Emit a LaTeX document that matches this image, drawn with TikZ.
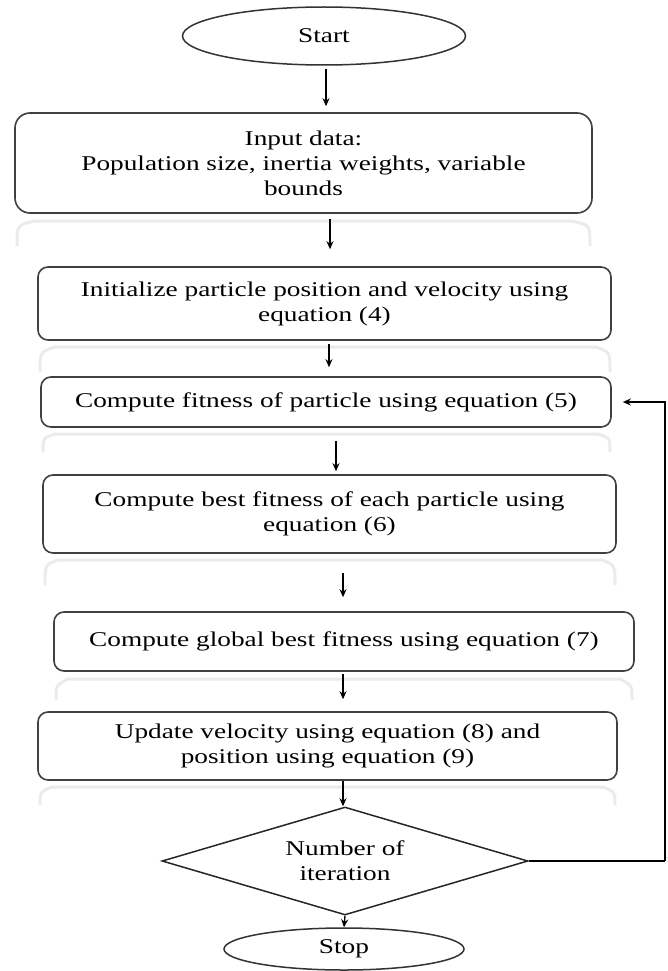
\documentclass[tikz,border=0pt]{standalone}
\usepackage{fontspec}
\setmainfont{Liberation Serif}[FakeStretch=1.3]
\usetikzlibrary{shapes.geometric,arrows.meta}
\begin{document}
\begin{tikzpicture}[x=1pt,y=-1pt,
  box/.style={draw=black!75,line width=1.6pt,rounded corners=10pt,align=center,inner sep=0pt,
     font=\fontsize{21}{25}\selectfont},
  oval/.style={draw=black!80,line width=1.5pt,ellipse,inner sep=0pt,font=\fontsize{21}{25}\selectfont},
  dec/.style={draw=black!85,line width=1.5pt,diamond,aspect=3.39,inner sep=0pt,align=center,font=\fontsize{21}{25}\selectfont},
  arr/.style={draw=black,line width=1.3pt,-{Stealth[length=8pt,width=7pt]}},
  refl/.style={draw=black!8,line width=3pt}]
\useasboundingbox (0,0) rectangle (667,971);
% nodes
\node[oval,minimum width=283pt,minimum height=58pt] (start) at (324,36) {Start};
\node[box,rounded corners=15pt,minimum width=577pt,minimum height=100pt] (input) at (303.5,163)
  {Input data:\\Population size, inertia weights, variable\\bounds};
\node[box,minimum width=573pt,minimum height=73pt] (init) at (324.5,303.5)
  {Initialize particle position and velocity using\\equation (4)};
\node[box,minimum width=570pt,minimum height=50pt] (fit) at (326,402)
  {Compute fitness of particle using equation (5)};
\node[box,minimum width=573pt,minimum height=78pt] (best) at (329.5,514)
  {Compute best fitness of each particle using\\equation (6)};
\node[box,minimum width=580pt,minimum height=59pt] (glob) at (344,641.5)
  {Compute global best fitness using equation (7)};
\node[box,minimum width=579pt,minimum height=68pt] (upd) at (327.5,746)
  {Update velocity using equation (8) and\\position using equation (9)};
\node[dec,minimum width=366pt,minimum height=108pt] (num) at (345,861)
  {Number of\\iteration};
\node[oval,minimum width=240pt,minimum height=42pt] (stop) at (344,949) {Stop};
% reflections
\draw[refl] (17,246) .. controls (17,225) .. (35,221) -- (572,221) .. controls (590,225) .. (590,246);
\draw[refl] (40,372) .. controls (40,352) .. (55,347) -- (596,347) .. controls (610,352) .. (610,372);
\draw[refl] (43,452) .. controls (43,438) .. (55,434) -- (598,434) .. controls (610,438) .. (610,452);
\draw[refl] (45,585) .. controls (45,565) .. (58,560) -- (602,560) .. controls (615,565) .. (615,585);
\draw[refl] (56,700) .. controls (56,685) .. (68,679) -- (620,679) .. controls (632,685) .. (632,700);
\draw[refl] (40,805) .. controls (40,792) .. (52,787) -- (603,787) .. controls (615,792) .. (615,805);
% arrow columns
\coordinate (c1) at (326,0);
\coordinate (c2) at (330,0);
\coordinate (c3) at (329,0);
\coordinate (c4) at (336,0);
\coordinate (c5) at (343,0);
\coordinate (rt) at (665,0);
% connectors
\draw[arr,shorten <=3pt,shorten >=6pt] (start.south -| c1) -- (input.north -| c1);
\draw[arr,shorten <=5pt,shorten >=17pt] (input.south -| c2) -- (init.north -| c2);
\draw[arr,shorten <=3pt,shorten >=9pt] (init.south -| c3) -- (fit.north -| c3);
\draw[arr,shorten <=13pt,shorten >=3pt] (fit.south -| c4) -- (best.north -| c4);
\draw[arr,shorten <=19pt,shorten >=14pt] (best.south -| c5) -- (glob.north -| c5);
\draw[arr,shorten <=2pt,shorten >=12pt] (glob.south -| c5) -- (upd.north -| c5);
\draw[arr] (upd.south -| c5) -- (num.north -| c5);
\draw[arr] (num.south) -- (stop.north);
\draw[line width=1.3pt] (num.east) -- (num.east -| rt) coordinate (r1);
\draw[arr,shorten >=11pt] (r1) -- (fit.east -| rt) -- (fit.east);
\end{tikzpicture}
\end{document}
